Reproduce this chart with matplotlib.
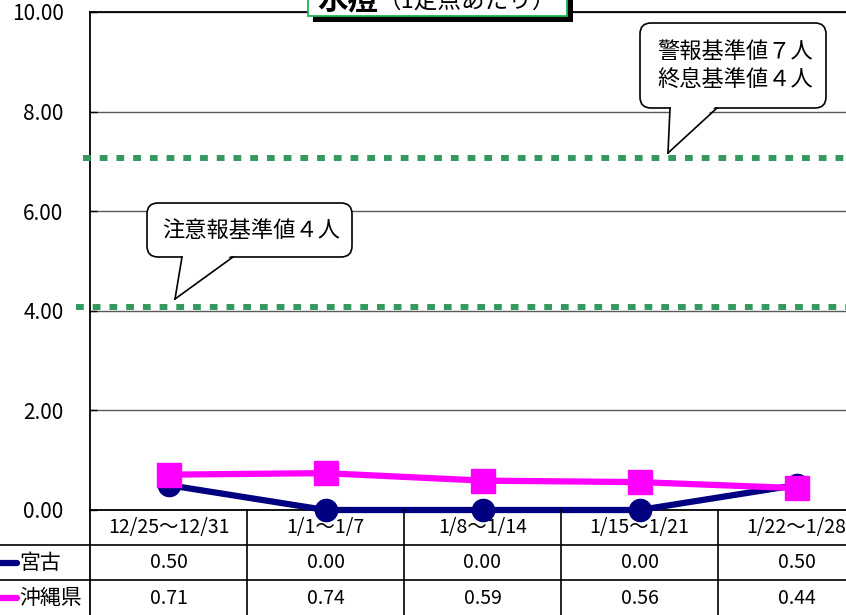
import matplotlib
matplotlib.use("Agg")
import matplotlib.pyplot as plt
from matplotlib.transforms import blended_transform_factory
from matplotlib.patches import FancyBboxPatch, Polygon, Rectangle
from matplotlib.lines import Line2D

plt.rcParams['font.family'] = ['Noto Sans CJK JP', 'DejaVu Sans']

categories = ['12/25～12/31', '1/1～1/7', '1/8～1/14', '1/15～1/21', '1/22～1/28']
series_names = ['宮古', '沖縄県']
miyako = [0.50, 0.00, 0.00, 0.00, 0.50]
okinawa = [0.71, 0.74, 0.59, 0.56, 0.44]
yticks = [0, 2, 4, 6, 8, 10]
warning_level = 7.07
advisory_level = 4.07
advisory_text = '注意報基準値４人'
warning_text = '警報基準値７人\n終息基準値４人'
title_main = '水痘'
title_sub = '（1定点あたり）'

W, H = 846, 615
fig = plt.figure(figsize=(W / 100, H / 100), dpi=100)
fig.patch.set_facecolor('white')


def px2fig(px, py):
    return (px / W, 1 - py / H)


ax_left, ax_top, ax_bottom, col_w = 90, 12, 510, 157
unit = (ax_bottom - ax_top) / 10
n = len(categories)
ax = fig.add_axes([ax_left / W, (H - ax_bottom) / H, n * col_w / W, (ax_bottom - ax_top) / H])
ax.set_xlim(-0.5, n - 0.5)
ax.set_ylim(0, 10)
ax.set_yticks(yticks)
ax.set_yticklabels([f'{v:.2f}' for v in yticks], fontsize=15)
ax.set_xticks([])
ax.tick_params(axis='y', direction='in', length=5, width=1, pad=19, colors='black')
ax.yaxis.grid(True, color='#5a5a5a', linewidth=1)
ax.set_axisbelow(True)
for s in ['left', 'bottom', 'top']:
    ax.spines[s].set_color('black')
    ax.spines[s].set_linewidth(1.3)
ax.spines['right'].set_visible(False)

x = list(range(n))
ax.plot(x, miyako, color='#000080', lw=4.5, marker='o', ms=16, mec='#000080', mfc='#000080',
        zorder=3, clip_on=False)
ax.plot(x, okinawa, color='#FF00FF', lw=4.5, marker='s', ms=17, mec='#FF00FF', mfc='#FF00FF',
        zorder=4, clip_on=False)

# dotted threshold lines
green = '#33995F'
for x_start, lvl in [(83, warning_level), (76, advisory_level)]:
    yy = ax_bottom - lvl * unit
    a, b = px2fig(x_start, yy), px2fig(W, yy)
    fig.add_artist(Line2D([a[0], b[0]], [a[1], b[1]], transform=fig.transFigure,
                          color=green, lw=4.3, linestyle=(0, (1.3, 1.5)),
                          dash_capstyle='butt', zorder=2))


def callout(x0, y0, x1, y1, base_l, base_r, tip, text, fs):
    box = FancyBboxPatch(px2fig(x0, y1), (x1 - x0) / W, (y1 - y0) / H,
                         boxstyle='round,pad=0,rounding_size=0.013', mutation_aspect=W / H,
                         transform=fig.transFigure, facecolor='white', edgecolor='black', lw=1.2,
                         zorder=10)
    fig.add_artist(box)
    poly = Polygon([px2fig(base_l + 1, y1 - 2), px2fig(base_r - 1, y1 - 2), px2fig(*tip)],
                   closed=True, transform=fig.transFigure, facecolor='white', edgecolor='none',
                   zorder=11)
    fig.add_artist(poly)
    for bx in (base_l, base_r):
        a, b = px2fig(bx, y1), px2fig(*tip)
        fig.add_artist(Line2D([a[0], b[0]], [a[1], b[1]], transform=fig.transFigure,
                              color='black', lw=1.2, zorder=12))
    cx, cy = px2fig((x0 + x1) / 2 + 2, (y0 + y1) / 2)
    fig.text(cx, cy, text, ha='center', va='center', fontsize=fs, zorder=13, linespacing=1.3)


callout(147, 203, 352, 257, 182, 233, (175, 299), advisory_text, 16)
callout(640, 23, 826, 108, 670, 717, (668, 153), warning_text, 16)

# title box (cut off at top, as in the original)
fig.add_artist(Rectangle(px2fig(313, 22), (573 - 313) / W, 40 / H, transform=fig.transFigure,
                         facecolor='black', edgecolor='none', zorder=14))
fig.add_artist(Rectangle(px2fig(308, 16), (567 - 308) / W, 40 / H, transform=fig.transFigure,
                         facecolor='white', edgecolor='#1DB954', lw=1.3, zorder=15))
t1 = fig.text(*px2fig(317, 8), title_main, fontsize=22, fontweight='bold', va='baseline',
              ha='left', zorder=16)
fig.canvas.draw()
bb = t1.get_window_extent()
fig.text(bb.x1 / W, 1 - 8 / H, title_sub, fontsize=17, va='baseline', ha='left', zorder=16)

# table
TB = blended_transform_factory(ax.transData, fig.transFigure)
for yy in [545, 580]:
    fig.add_artist(Line2D([0, 1], [1 - yy / H] * 2, transform=fig.transFigure, color='black', lw=1.2))
fig.add_artist(Line2D([ax_left / W] * 2, [0, 1 - ax_bottom / H], transform=fig.transFigure,
                      color='black', lw=1.3))
for k in range(1, n):
    fig.add_artist(Line2D([k - 0.5, k - 0.5], [0, 1 - ax_bottom / H], transform=TB,
                          color='black', lw=1.2))

for i, c in enumerate(categories):
    fig.text(i, 1 - 528 / H, c, transform=TB, ha='center', va='center', fontsize=14)
    fig.text(i, 1 - 563 / H, f'{miyako[i]:.2f}', transform=TB, ha='center', va='center', fontsize=14)
    fig.text(i, 1 - 598 / H, f'{okinawa[i]:.2f}', transform=TB, ha='center', va='center', fontsize=14)

for name, col, yy in zip(series_names, ['#000080', '#FF00FF'], [563, 598]):
    fig.add_artist(Line2D([0, 17 / W], [1 - yy / H] * 2, transform=fig.transFigure, color=col,
                          lw=4.5, solid_capstyle='round'))
    fig.text(19 / W, 1 - yy / H, name, ha='left', va='center', fontsize=15)

fig.savefig('out.png', dpi=100)
